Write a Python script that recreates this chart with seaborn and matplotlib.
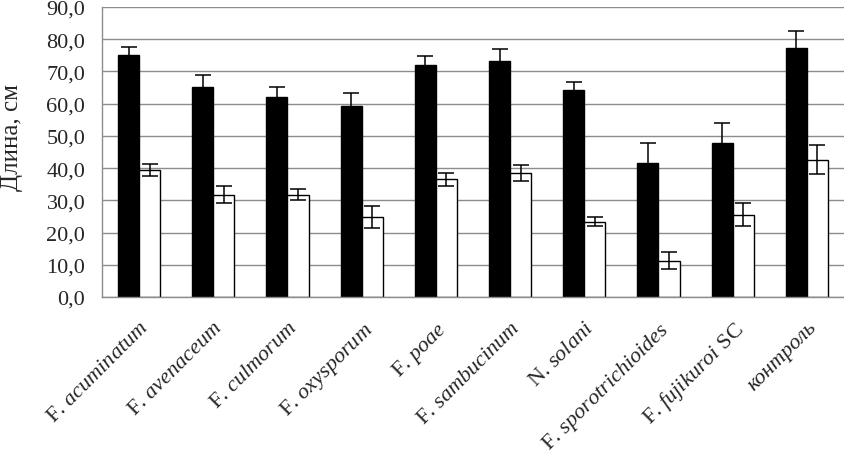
import numpy as np
import pandas as pd
import matplotlib
matplotlib.use("Agg")
import matplotlib.pyplot as plt
from matplotlib.ticker import FuncFormatter
import seaborn as sns

# Данные
categories = ['F. acuminatum', 'F. avenaceum', 'F. culmorum', 'F. oxysporum', 'F. poae',
              'F. sambucinum', 'N. solani', 'F. sporotrichioides', 'F. fujikuroi SC', 'контроль']
tick_labels = [r'F. $\mathit{acuminatum}$', r'F. $\mathit{avenaceum}$', r'F. $\mathit{culmorum}$',
               r'F. $\mathit{oxysporum}$', r'F. $\mathit{poae}$', r'F. $\mathit{sambucinum}$',
               r'N. $\mathit{solani}$', r'F. $\mathit{sporotrichioides}$', r'F. $\mathit{fujikuroi}$ SC',
               'контроль']
series_names = ['ряд 1', 'ряд 2']
vals_black = [75.0, 65.3, 62.2, 59.3, 72.0, 73.2, 64.2, 41.6, 47.8, 77.2]
err_black = [2.7, 3.7, 3.1, 4.0, 2.7, 3.8, 2.6, 6.1, 6.1, 5.3]
vals_white = [39.5, 31.8, 31.8, 24.8, 36.6, 38.5, 23.4, 11.3, 25.6, 42.6]
err_white = [1.8, 2.7, 1.6, 3.4, 2.0, 2.5, 1.5, 2.6, 3.5, 4.5]

df = pd.DataFrame({
    'cat': categories * 2,
    'series': [series_names[0]] * len(categories) + [series_names[1]] * len(categories),
    'val': vals_black + vals_white,
})

sns.set_theme(style='white')
plt.rcParams['font.family'] = ['Liberation Serif', 'DejaVu Serif']
plt.rcParams['mathtext.fontset'] = 'custom'
plt.rcParams['mathtext.rm'] = 'Liberation Serif'
plt.rcParams['mathtext.it'] = 'Liberation Serif:italic'

fig, ax = plt.subplots(figsize=(8.45, 4.56), dpi=100)
fig.subplots_adjust(left=102/845, right=844/845, bottom=1-298/456, top=1-8/456)

sns.barplot(data=df, x='cat', y='val', hue='series', order=categories,
            palette=['black', 'white'], edgecolor='black', linewidth=1,
            width=0.57, errorbar=None, legend=False, ax=ax, zorder=2)

# планки погрешностей
for cont, errs in zip(ax.containers, [err_black, err_white]):
    xs = [b.get_x() + b.get_width() / 2 for b in cont]
    hs = [b.get_height() for b in cont]
    ax.errorbar(xs, hs, yerr=errs, fmt='none', ecolor='black', elinewidth=1.1,
                capsize=6, capthick=1.1, zorder=3)

ax.set_ylim(0, 90)
ax.set_yticks(np.arange(0, 91, 10))
ax.yaxis.set_major_formatter(FuncFormatter(lambda v, p: f'{v:.1f}'.replace('.', ',')))
ax.grid(axis='y', color='#8c8c8c', linewidth=1, zorder=0)
ax.set_axisbelow(True)
ax.set_xlim(-0.5, len(categories) - 0.5)

for s in ['top', 'right']:
    ax.spines[s].set_visible(False)
for s in ['left', 'bottom']:
    ax.spines[s].set_color('#8c8c8c')
    ax.spines[s].set_linewidth(1)

ax.set_xticks(range(len(categories)))
ax.set_xticklabels(tick_labels, rotation=45, ha='right', va='top', rotation_mode='anchor')
ax.get_xticklabels()[-1].set_style('italic')
ax.set_xticks(np.arange(-0.5, len(categories), 1), minor=True)
ax.tick_params(axis='x', which='major', length=0, pad=15, labelsize=16)
ax.tick_params(axis='x', which='minor', length=5, direction='out', color='#8c8c8c', width=1)
ax.tick_params(axis='y', length=0, pad=12, labelsize=16)

ax.set_xlabel('')
ax.set_ylabel('Длина, см', fontsize=18)
ax.yaxis.set_label_coords(-0.107, 0.552)

fig.savefig('out.png', dpi=100)
